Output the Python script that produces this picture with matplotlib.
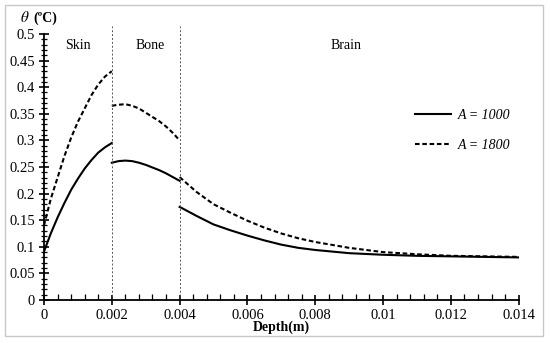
import numpy as np
import matplotlib
matplotlib.use('Agg')
import matplotlib.pyplot as plt
from matplotlib.patches import Rectangle
from matplotlib.ticker import MultipleLocator, FuncFormatter

# ---- data ----
skin_x = [0, 0.0002, 0.0004, 0.0006, 0.0008, 0.001, 0.0012, 0.0014, 0.0016, 0.0018, 0.002]
skin_1000 = [0.091, 0.125, 0.155, 0.182, 0.207, 0.228, 0.247, 0.263, 0.277, 0.287, 0.295]
skin_1800 = [0.14, 0.19, 0.23, 0.27, 0.305, 0.335, 0.36, 0.385, 0.405, 0.42, 0.43]

bone_x = [0.002, 0.0022, 0.0024, 0.0026, 0.0028, 0.003, 0.0032, 0.0034, 0.0036, 0.0038, 0.004]
bone_1000 = [0.258, 0.261, 0.262, 0.261, 0.258, 0.254, 0.249, 0.244, 0.238, 0.231, 0.224]
bone_1800 = [0.365, 0.367, 0.368, 0.365, 0.360, 0.352, 0.344, 0.336, 0.326, 0.314, 0.300]

brain_x = [0.004, 0.0045, 0.005, 0.0055, 0.006, 0.0065, 0.007, 0.0075, 0.008,
           0.009, 0.010, 0.011, 0.012, 0.013, 0.014]
brain_1000 = [0.175, 0.158, 0.142, 0.131, 0.121, 0.112, 0.104, 0.098, 0.094,
              0.088, 0.085, 0.083, 0.082, 0.081, 0.080]
brain_1800 = [0.231, 0.203, 0.180, 0.164, 0.149, 0.136, 0.125, 0.116, 0.109,
              0.098, 0.090, 0.086, 0.083, 0.082, 0.081]

boundaries = [0.002, 0.004]
regions = ['Skin', 'Bone', 'Brain']
region_x = [0.001, 0.00313, 0.0089]
series_labels = ['A = 1000', 'A = 1800']

# ---- plot ----
plt.rcParams['font.family'] = ['Liberation Serif', 'DejaVu Serif']
plt.rcParams['mathtext.fontset'] = 'stix'

fig = plt.figure(figsize=(5.5, 3.43), dpi=100)
ax = fig.add_axes([0.08, 0.1254, 0.863, 0.7756])

fig.patches.append(Rectangle((5 / 550, 7 / 343), 538 / 550, 331 / 343, transform=fig.transFigure,
                             fill=False, edgecolor='#c8c8c8', linewidth=1.0))

lw = 1.5
dash = (2.2, 1.3)
first = True
for xs, y1, y2 in [(skin_x, skin_1000, skin_1800),
                   (bone_x, bone_1000, bone_1800),
                   (brain_x, brain_1000, brain_1800)]:
    ax.plot(xs, y1, color='black', lw=lw, label=series_labels[0] if first else None)
    ax.plot(xs, y2, color='black', lw=lw, dashes=dash, label=series_labels[1] if first else None)
    first = False

for b in boundaries:
    ax.plot([b, b], [0, 0.515], color='#555555', lw=0.7, ls=(0, (2, 2)), clip_on=False)

for name, xr in zip(regions, region_x):
    ax.text(xr, 0.479, name, ha='center', va='center', fontsize=10)

ax.set_xlim(0, 0.014)
ax.set_ylim(0, 0.5)
ax.xaxis.set_major_locator(MultipleLocator(0.002))
ax.xaxis.set_minor_locator(MultipleLocator(0.0004))
ax.yaxis.set_major_locator(MultipleLocator(0.05))
ax.yaxis.set_minor_locator(MultipleLocator(0.01))
ax.xaxis.set_major_formatter(FuncFormatter(lambda v, p: '0' if v == 0 else f'{v:.3f}'.rstrip('0')))
ax.yaxis.set_major_formatter(FuncFormatter(lambda v, p: '0' if v == 0 else f'{v:.2f}'.rstrip('0')))

ax.tick_params(axis='both', which='major', direction='inout', length=7, width=1.2,
               labelsize=10.5, pad=3)
ax.tick_params(axis='y', which='minor', direction='inout', length=4, width=0.9)
ax.tick_params(axis='x', which='minor', direction='in', length=4, width=0.9)

for s in ['top', 'right']:
    ax.spines[s].set_visible(False)
for s in ['left', 'bottom']:
    ax.spines[s].set_linewidth(1.3)

ax.set_xlabel('Depth(m)', fontsize=10, fontweight='bold', labelpad=-1)
fig.text(20 / 550, 1 - 18 / 343, r'$\theta$', fontsize=11, fontweight='bold',
         ha='left', va='center', style='italic')
fig.text(33 / 550, 1 - 18 / 343, '(ºC)', fontsize=10, fontweight='bold', ha='left', va='center')

leg = ax.legend(loc='upper left', bbox_to_anchor=(0.755, 0.765), frameon=False,
                handlelength=2.6, labelspacing=1.25, handletextpad=0.5,
                prop={'style': 'italic', 'size': 10})

fig.savefig('out.png', dpi=100)
